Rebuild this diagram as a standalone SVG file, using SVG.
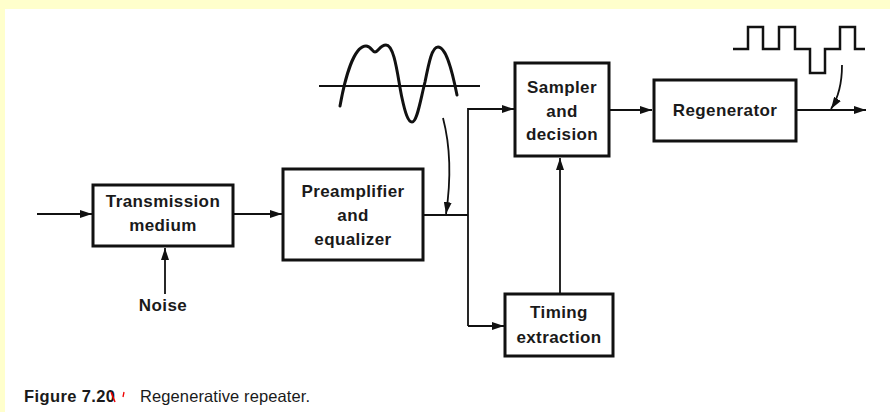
<svg xmlns="http://www.w3.org/2000/svg" width="890" height="412" viewBox="0 0 890 412">
<style>
.box{fill:#fff;stroke:#111;stroke-width:3}
.lbl{font-family:"Liberation Sans",Arial,sans-serif;font-weight:bold;font-size:17px;fill:#1a1a1a;text-anchor:middle;letter-spacing:0.4px}
.ln{fill:none;stroke:#111;stroke-width:1.8}
.wave{fill:none;stroke:#111;stroke-width:3;stroke-linejoin:round;stroke-linecap:round}
.cap{font-family:"Liberation Sans",Arial,sans-serif;font-size:16.5px;fill:#1a1a1a}
</style>
<defs>
<marker id="ah" viewBox="0 0 12 8" refX="12" refY="4" markerWidth="12" markerHeight="8" markerUnits="userSpaceOnUse" orient="auto">
<path d="M0,0 L12,4 L0,8 Z" fill="#111"/>
</marker>
</defs>
<rect x="0" y="0" width="890" height="412" fill="#fff"/>
<rect x="0" y="0" width="890" height="9" fill="#FFFFCC"/>
<rect x="0" y="0" width="5" height="412" fill="#FFFFCC"/>

<g id="connectors">
<line class="ln" x1="37" y1="214" x2="92" y2="214" marker-end="url(#ah)"/>
<line class="ln" x1="165" y1="294" x2="165" y2="248" marker-end="url(#ah)"/>
<line class="ln" x1="234" y1="214" x2="282" y2="214" marker-end="url(#ah)"/>
<polyline class="ln" points="424,215 468,215"/>
<polyline class="ln" points="468,326 468,109 514,109" marker-end="url(#ah)"/>
<line class="ln" x1="468" y1="326" x2="504" y2="326" marker-end="url(#ah)"/>
<line class="ln" x1="560" y1="293" x2="560" y2="158" marker-end="url(#ah)"/>
<line class="ln" x1="610" y1="110" x2="652" y2="110" marker-end="url(#ah)"/>
<line class="ln" x1="797" y1="110" x2="866" y2="110" marker-end="url(#ah)"/>
<path class="ln" d="M443,118 Q454,160 446,214" marker-end="url(#ah)"/>
<path class="ln" d="M842,65 Q842,92 831,109" marker-end="url(#ah)"/>
</g>

<g id="wave-analog">
<line x1="319" y1="86" x2="480" y2="86" stroke="#111" stroke-width="2"/>
<path class="wave" d="M340,106 C345,78 354,46 366,46 C371,46 372,52 375,52 C378,52 380,45 386,45 C395,45 398,80 402,98 C405,112 408,122 412,122 C417,122 420,102 425,82 C429,62 432,47 438,47 C446,47 452,70 457,95"/>
</g>

<g id="wave-digital">
<path d="M733,49 L748,49 L748,27 L763,27 L763,49 L779,49 L779,27 L795,27 L795,49 L810,49 L810,73 L825,73 L825,49 L840,49 L840,27 L855,27 L855,49 L865,49" fill="none" stroke="#111" stroke-width="2.5"/>
</g>

<g id="transmission">
<rect class="box" x="93" y="185" width="140" height="61"/>
<text class="lbl" x="163" y="207">Transmission</text>
<text class="lbl" x="163" y="231">medium</text>
</g>
<g id="noise">
<text class="lbl" x="163" y="311">Noise</text>
</g>
<g id="preamp">
<rect class="box" x="283" y="169" width="140" height="91"/>
<text class="lbl" x="353" y="197">Preamplifier</text>
<text class="lbl" x="353" y="221">and</text>
<text class="lbl" x="353" y="245">equalizer</text>
</g>
<g id="sampler">
<rect class="box" x="515" y="63" width="94" height="93"/>
<text class="lbl" x="562" y="93">Sampler</text>
<text class="lbl" x="562" y="117">and</text>
<text class="lbl" x="562" y="140">decision</text>
</g>
<g id="timing">
<rect class="box" x="505" y="294" width="108" height="62"/>
<text class="lbl" x="559" y="318">Timing</text>
<text class="lbl" x="559" y="343">extraction</text>
</g>
<g id="regenerator">
<rect class="box" x="654" y="80" width="142" height="61"/>
<text class="lbl" x="725" y="116">Regenerator</text>
</g>

<g id="caption">
<text class="cap" x="24" y="402" font-weight="bold" textLength="91">Figure 7.20</text>
<text class="cap" x="140" y="402" textLength="170">Regenerative repeater.</text>
<line x1="111" y1="392" x2="115" y2="402" stroke="#e00" stroke-width="1.5"/>
<line x1="124" y1="392" x2="123" y2="397" stroke="#e00" stroke-width="1.3"/>
</g>
</svg>
